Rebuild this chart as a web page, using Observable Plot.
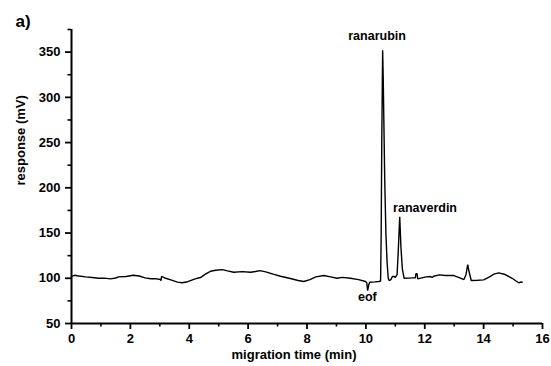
<!DOCTYPE html>
<html>
<head>
<meta charset="utf-8">
<script src="https://cdn.jsdelivr.net/npm/d3@7"></script>
<script src="https://cdn.jsdelivr.net/npm/@observablehq/plot@0.6"></script>
<style>
  html, body { margin: 0; padding: 0; background: #fff; }
  #chart svg { font-family: "Liberation Sans", Arial, sans-serif; font-weight: bold; }
</style>
</head>
<body>
<div id="chart"></div>
<script>
// Electropherogram trace: migration time (min) and detector response (mV)
const time = [
  0.00, 0.10, 0.25, 0.48, 0.70, 0.92, 1.10, 1.33, 1.50, 1.60, 1.85, 2.10, 2.30, 2.50, 2.70, 2.85,
  3.02, 3.04, 3.06, 3.20, 3.40, 3.60, 3.76, 3.95, 4.20, 4.38, 4.55, 4.72, 4.90, 5.12, 5.30, 5.51,
  5.80, 6.08, 6.25, 6.40, 6.60, 6.85, 7.10, 7.40, 7.70, 7.89, 8.10, 8.30, 8.57, 8.80, 9.02, 9.20,
  9.48, 9.75, 9.99, 10.03, 10.06, 10.10, 10.13, 10.30, 10.44, 10.50, 10.52, 10.54, 10.56, 10.57,
  10.59, 10.61, 10.64, 10.68, 10.72, 10.76, 10.79, 10.85, 10.90, 10.95, 11.00, 11.06, 11.10, 11.15,
  11.19, 11.24, 11.30, 11.45, 11.60, 11.68, 11.70, 11.74, 11.76, 11.90, 12.05, 12.20, 12.25, 12.30,
  12.50, 12.70, 12.99, 13.15, 13.33, 13.40, 13.46, 13.50, 13.58, 13.80, 14.00, 14.20, 14.35, 14.51,
  14.70, 14.97, 15.10, 15.19, 15.25, 15.31
];
const response = [
  102, 103.3, 102.5, 101.5, 100.8, 100, 100.2, 99.3, 100.3, 101.5, 102, 103.3, 102.5, 100.4, 99.5, 99.6,
  98.6, 97.5, 102, 100, 98, 95.8, 95, 96.2, 99.3, 100.8, 104.5, 107.7, 108.8, 109.6, 108.2, 106.6,
  107.3, 106.6, 107.5, 108.5, 107, 104.5, 102.2, 100, 97.5, 96.4, 98.5, 101.5, 103, 101.5, 100, 101,
  100, 98.5, 96.4, 95, 86.4, 93, 95.6, 96, 96.4, 97, 150, 250, 320, 352,
  320, 276, 210, 150, 118, 100, 97.5, 98.5, 102, 102, 101, 104, 130, 168,
  135, 110, 100, 100.2, 100.4, 100.4, 105, 105, 99.3, 100.5, 101.5, 102, 100.8, 102.2,
  103.7, 103, 103, 101, 98.6, 104, 115, 108, 97.5, 97.8, 98.2, 101.5, 104.5, 106,
  104.5, 100, 97, 95, 95.8, 95.6
];

// Peak annotations
const peakNames = ["ranarubin", "ranaverdin", "eof"];
const peakTimes = [10.38, 12.01, 10.05];
const peakLabelLevels = [367.5, 177.5, 79.5];

// Axis ticks
const xMajor = [0, 2, 4, 6, 8, 10, 12, 14, 16];
const xMinor = [1, 3, 5, 7, 9, 11, 13, 15];
const yMajor = [50, 100, 150, 200, 250, 300, 350];
const yMinor = [75, 125, 175, 225, 275, 325, 375];

const trace = time.map((t, i) => ({t, v: response[i]}));
const peaks = peakNames.map((name, i) => ({name, t: peakTimes[i], v: peakLabelLevels[i]}));

const chart = Plot.plot({
  width: 551,
  height: 366,
  marginLeft: 71,
  marginRight: 9,
  marginTop: 29,
  marginBottom: 43,
  style: {fontSize: "13px", color: "#000", background: "#fff"},
  x: {domain: [0, 16], label: null, axis: null},
  y: {domain: [50, 375], label: null, axis: null},
  marks: [
    // axis lines
    Plot.ruleX([0], {y1: 50, y2: 375, stroke: "#000", strokeWidth: 2}),
    Plot.ruleY([50], {x1: 0, x2: 16, stroke: "#000", strokeWidth: 2}),
    // ticks
    Plot.axisX(xMajor, {tickSize: 6, tickPadding: 4, strokeWidth: 1.8, label: null, fontSize: 13}),
    Plot.axisX(xMinor, {tickSize: 3.5, tickFormat: () => "", strokeWidth: 1.6, label: null}),
    Plot.axisY(yMajor, {tickSize: 6, tickPadding: 5, strokeWidth: 1.8, label: null, fontSize: 13}),
    Plot.axisY(yMinor, {tickSize: 3.5, tickFormat: () => "", strokeWidth: 1.6, label: null}),
    // the trace
    Plot.line(trace, {x: "t", y: "v", stroke: "#000", strokeWidth: 1.4, strokeLinejoin: "miter"}),
    // peak labels
    Plot.text(peaks, {x: "t", y: "v", text: "name", fontSize: 12.5, fontWeight: "bold", fill: "#000"}),
    // axis titles and panel tag
    Plot.text(["migration time (min)"], {frameAnchor: "bottom", dx: -13, dy: 35, fontSize: 13, fontWeight: "bold", fill: "#000"}),
    Plot.text(["response (mV)"], {frameAnchor: "left", rotate: -90, dx: -51, dy: 9, fontSize: 13, fontWeight: "bold", fill: "#000"}),
    Plot.text(["a)"], {frameAnchor: "top-left", dx: -56, dy: -15, fontSize: 17, fontWeight: "bold", fill: "#000"})
  ]
});

document.getElementById("chart").append(chart);
</script>
</body>
</html>
